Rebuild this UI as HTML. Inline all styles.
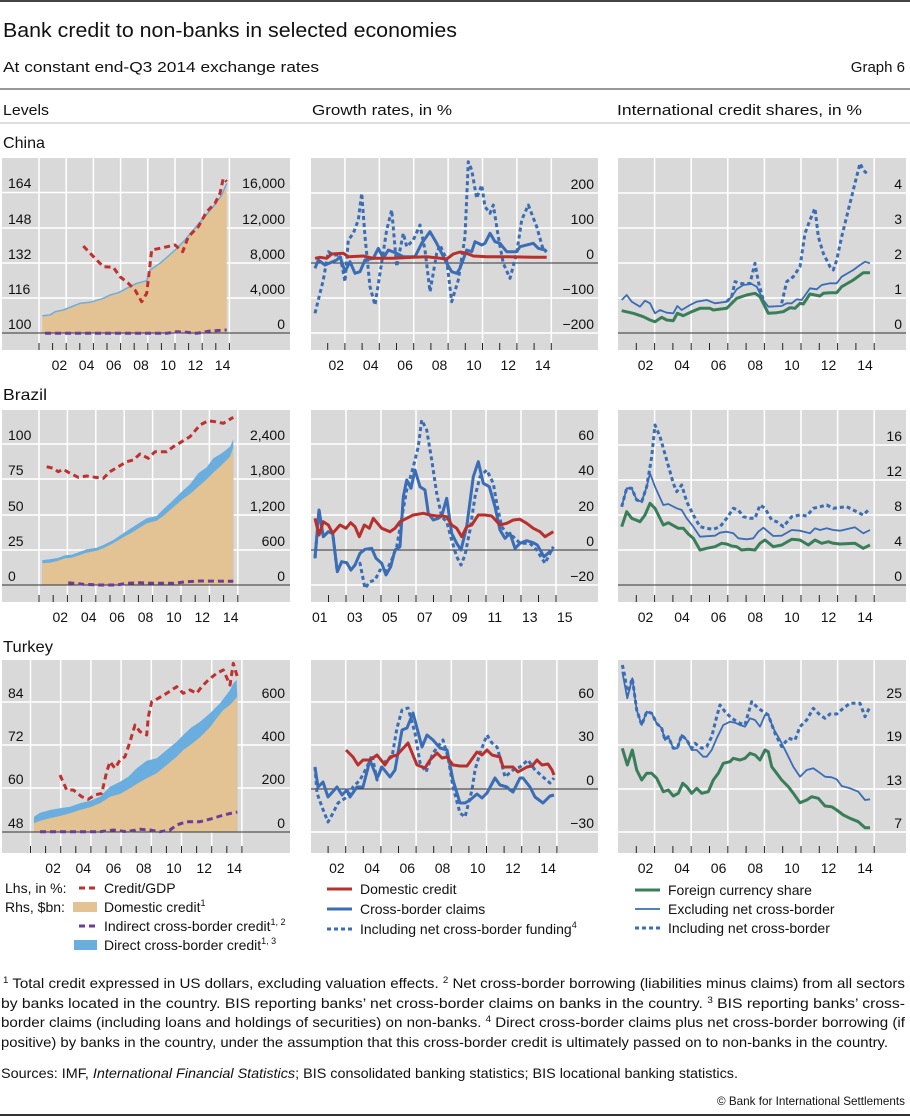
<!DOCTYPE html>
<html><head><meta charset="utf-8"><style>
html,body{margin:0;padding:0;background:#fff;}
svg{display:block;font-family:"Liberation Sans",Arial,sans-serif;}
.t{font-size:14px;fill:#111;}
.c{font-family:"Liberation Sans Narrow","Liberation Sans",sans-serif;fill:#111;}
</style></head><body>
<svg id="s" width="910" height="1117" viewBox="0 0 910 1117" xmlns="http://www.w3.org/2000/svg">
<rect width="910" height="1117" fill="#fff"/>
<line x1="0" y1="1" x2="910" y2="1" stroke="#444" stroke-width="2"/>
<text class="c" x="3" y="37" font-size="20" textLength="454" lengthAdjust="spacingAndGlyphs">Bank credit to non-banks in selected economies</text>
<text class="c" x="3" y="72" font-size="15" textLength="316" lengthAdjust="spacingAndGlyphs">At constant end-Q3 2014 exchange rates</text>
<text class="c" x="905" y="72" font-size="15" text-anchor="end">Graph 6</text>
<line x1="0" y1="89" x2="910" y2="89" stroke="#777" stroke-width="1.5"/>
<text class="c" x="3" y="115" font-size="15" textLength="46" lengthAdjust="spacingAndGlyphs">Levels</text>
<text class="c" x="312" y="115" font-size="15" textLength="140" lengthAdjust="spacingAndGlyphs">Growth rates, in %</text>
<text class="c" x="617" y="115" font-size="15" textLength="245" lengthAdjust="spacingAndGlyphs">International credit shares, in %</text>
<line x1="0" y1="123" x2="910" y2="123" stroke="#bbb" stroke-width="1"/>
<text class="c" x="3" y="148" font-size="16" textLength="42" lengthAdjust="spacingAndGlyphs">China</text>
<text class="c" x="3" y="400" font-size="16" textLength="44" lengthAdjust="spacingAndGlyphs">Brazil</text>
<text class="c" x="3" y="652" font-size="16" textLength="50" lengthAdjust="spacingAndGlyphs">Turkey</text>
<g id="plots"></g>
<g id="labels" class="t">
<!-- China -->
<text x="8" y="188">164</text><text x="8" y="224">148</text><text x="8" y="259">132</text><text x="8" y="294">116</text><text x="8" y="329">100</text>
<g text-anchor="end"><text x="285" y="188">16,000</text><text x="285" y="224">12,000</text><text x="285" y="259">8,000</text><text x="285" y="294">4,000</text><text x="285" y="329">0</text>
<text x="594" y="189">200</text><text x="594" y="224">100</text><text x="594" y="259">0</text><text x="594" y="294">−100</text><text x="594" y="329">−200</text>
<text x="902" y="189">4</text><text x="902" y="224">3</text><text x="902" y="259">2</text><text x="902" y="294">1</text><text x="902" y="329">0</text>
<!-- Brazil -->
<text x="285" y="440">2,400</text><text x="285" y="475">1,800</text><text x="285" y="511">1,200</text><text x="285" y="546">600</text><text x="285" y="581">0</text>
<text x="594" y="440">60</text><text x="594" y="475">40</text><text x="594" y="511">20</text><text x="594" y="546">0</text><text x="594" y="581">−20</text>
<text x="902" y="441">16</text><text x="902" y="476">12</text><text x="902" y="511">8</text><text x="902" y="546">4</text><text x="902" y="581">0</text>
<!-- Turkey -->
<text x="285" y="698">600</text><text x="285" y="741">400</text><text x="285" y="784">200</text><text x="285" y="828">0</text>
<text x="594" y="698">60</text><text x="594" y="741">30</text><text x="594" y="785">0</text><text x="594" y="828">−30</text>
<text x="902" y="698">25</text><text x="902" y="741">19</text><text x="902" y="785">13</text><text x="902" y="828">7</text>
</g>
<text x="8" y="440">100</text><text x="8" y="475">75</text><text x="8" y="511">50</text><text x="8" y="546">25</text><text x="8" y="581">0</text>
<text x="8" y="698">84</text><text x="8" y="741">72</text><text x="8" y="784">60</text><text x="8" y="828">48</text>
</g>
<g id="years" class="t" text-anchor="middle"></g>
<!-- Legends -->
<g class="t">
<text x="5" y="893">Lhs, in %:</text>
<text x="5" y="912">Rhs, $bn:</text>
<line x1="79" y1="888" x2="98" y2="888" stroke="#c0302f" stroke-width="3" stroke-dasharray="6,4"/>
<text x="104" y="893">Credit/GDP</text>
<rect x="73" y="902" width="24" height="10" fill="#e3c393"/>
<text x="104" y="912">Domestic credit<tspan font-size="9" dy="-6">1</tspan></text>
<line x1="79" y1="926" x2="98" y2="926" stroke="#6b3d99" stroke-width="3" stroke-dasharray="6,4"/>
<text x="104" y="931">Indirect cross-border credit<tspan font-size="9" dy="-6">1, 2</tspan></text>
<rect x="74" y="940" width="23" height="10" fill="#6aaee0"/>
<text x="104" y="950">Direct cross-border credit<tspan font-size="9" dy="-6">1, 3</tspan></text>

<line x1="327" y1="889" x2="352" y2="889" stroke="#b8302d" stroke-width="3"/>
<text x="360" y="894">Domestic credit</text>
<line x1="327" y1="909" x2="352" y2="909" stroke="#3a6db5" stroke-width="3"/>
<text x="360" y="914">Cross-border claims</text>
<line x1="327" y1="929" x2="352" y2="929" stroke="#3a6db5" stroke-width="3" stroke-dasharray="4,3"/>
<text x="360" y="934">Including net cross-border funding<tspan font-size="9" dy="-6">4</tspan></text>

<line x1="635" y1="890" x2="660" y2="890" stroke="#3a7d5a" stroke-width="3"/>
<text x="668" y="895">Foreign currency share</text>
<line x1="635" y1="909" x2="660" y2="909" stroke="#3a6db5" stroke-width="1.8"/>
<text x="668" y="914">Excluding net cross-border</text>
<line x1="635" y1="928" x2="660" y2="928" stroke="#3a6db5" stroke-width="3" stroke-dasharray="4,3"/>
<text x="668" y="933">Including net cross-border</text>
</g>
<!-- Footnotes -->
<g class="c" font-size="14">
<text x="3" y="988" textLength="902" lengthAdjust="spacingAndGlyphs"><tspan font-size="9" baseline-shift="super">1</tspan>  Total credit expressed in US dollars, excluding valuation effects.    <tspan font-size="9" baseline-shift="super">2</tspan>  Net cross-border borrowing (liabilities minus claims) from all sectors</text>
<text x="1" y="1008" textLength="904" lengthAdjust="spacingAndGlyphs">by banks located in the country. BIS reporting banks’ net cross-border claims on banks in the country.    <tspan font-size="9" baseline-shift="super">3</tspan>  BIS reporting banks’ cross-</text>
<text x="1" y="1027" textLength="904" lengthAdjust="spacingAndGlyphs">border claims (including loans and holdings of securities) on non-banks.    <tspan font-size="9" baseline-shift="super">4</tspan>  Direct cross-border claims plus net cross-border borrowing (if</text>
<text x="1" y="1047" textLength="887" lengthAdjust="spacingAndGlyphs">positive) by banks in the country, under the assumption that this cross-border credit is ultimately passed on to non-banks in the country.</text>
<text x="1" y="1078" textLength="737" lengthAdjust="spacingAndGlyphs">Sources: IMF, <tspan font-style="italic">International Financial Statistics</tspan>; BIS consolidated banking statistics; BIS locational banking statistics.</text>
<text x="717" y="1105" font-size="12" textLength="188" lengthAdjust="spacingAndGlyphs">© Bank for International Settlements</text>
</g>
<line x1="0" y1="1115" x2="910" y2="1115" stroke="#333" stroke-width="2"/>
</svg>
<script>
(function(){
var NS="http://www.w3.org/2000/svg";
var plots=document.getElementById('plots'), years=document.getElementById('years');
function el(tag,attrs,parent){var e=document.createElementNS(NS,tag);for(var k in attrs)e.setAttribute(k,attrs[k]);(parent||plots).appendChild(e);return e;}
function Z(cx,cy,pts){return pts.map(function(p,i){return (i?'L':'M')+(cx+p[0]/3).toFixed(1)+','+(cy+p[1]/3).toFixed(1);}).join('');}
function P(pts){return pts.map(function(p,i){return (i?'L':'M')+p[0]+','+p[1];}).join('');}
function line(d,c,w,dash){var a={d:d,fill:'none',stroke:c,'stroke-width':w,'stroke-linejoin':'round'};if(dash)a['stroke-dasharray']=dash;el('path',a);}
function panel(o){
 el('rect',{x:o.x0,y:o.y0,width:o.x1-o.x0,height:o.y1-o.y0,fill:'#d9d9d9'});
 o.vg.forEach(function(yr){var x=o.X(yr);el('line',{x1:x,y1:o.y0,x2:x,y2:o.y1,stroke:'#fff','stroke-width':1.5});});
 o.hg.forEach(function(y){el('line',{x1:o.x0,y1:y,x2:o.x1,y2:y,stroke:'#fff','stroke-width':1.5});});
 for(var yr=o.t0;yr<=2015;yr++){var x=o.X(yr);el('line',{x1:x,y1:o.y1-7,x2:x,y2:o.y1,stroke:'#222','stroke-width':1});}
 o.lab.forEach(function(yr){var t=el('text',{x:o.X(yr+0.5).toFixed(1),y:o.y1+20},years);t.textContent=String(yr).slice(2);});
}
function axis(o){if(o.ax)el('line',{x1:o.x0,y1:o.ax,x2:o.x1,y2:o.ax,stroke:'#333','stroke-width':1});}
var odd=[2003,2005,2007,2009,2011,2013,2015], odd1=[2001].concat(odd), even=[2002,2004,2006,2008,2010,2012,2014];
var RX=function(y){return 618+18.3*(y-2001);};
var panels={
 cL:{x0:2,y0:158,x1:290,y1:350,X:function(y){return 39+13.6*(y-2001);},vg:odd1,hg:[192.5,228,263,298],ax:333,t0:2001,lab:even},
 cM:{x0:311,y0:158,x1:598,y1:350,X:function(y){return 310.5+17.2*(y-2001);},vg:odd,hg:[193,228,298,333],ax:263,t0:2002,lab:even},
 cR:{x0:618,y0:158,x1:906,y1:350,X:RX,vg:odd,hg:[193,228,263,298],ax:333,t0:2002,lab:even},
 bL:{x0:2,y0:410,x1:290,y1:602,X:function(y){return 39+14.2*(y-2001);},vg:odd1,hg:[444,479,515,550],ax:585,t0:2001,lab:even},
 bM:{x0:311,y0:410,x1:598,y1:602,X:function(y){return 311+17.5*(y-2001);},vg:odd,hg:[444,479,515,585],ax:550,t0:2002,lab:[2000,2002,2004,2006,2008,2010,2012,2014].map(function(v){return v+1;})},
 bR:{x0:618,y0:410,x1:906,y1:602,X:RX,vg:odd,hg:[445,480,515,550],ax:585,t0:2002,lab:even},
 tL:{x0:2,y0:660,x1:290,y1:853,X:function(y){return 30.5+15.1*(y-2001);},vg:odd1,hg:[702,745,788],ax:832,t0:2001,lab:even},
 tM:{x0:311,y0:660,x1:598,y1:853,X:function(y){return 310.5+17.6*(y-2001);},vg:odd,hg:[702,745,832],ax:789,t0:2002,lab:even},
 tR:{x0:618,y0:660,x1:906,y1:853,X:RX,vg:odd,hg:[702,745,789,832],ax:0,t0:2002,lab:even}
};
for(var k in panels)panel(panels[k]);
var RED='#b8302d',RDASH='#c0302f',BLUE='#3a6db5',GREEN='#3a7d5a',TAN='#e3c393',LB='#6aaee0',PUR='#6b3d99';
// China L
var cTop=[[127,557],[150,555],[165,545],[190,540],[240,520],[270,517],[310,505],[330,495],[355,488],[380,475],[410,460],[440,452],[450,420],[480,400],[520,365],[555,330],[580,300],[610,265],[640,230],[665,195],[680,160]];
el('path',{d:Z(0,130,[[127,610]].concat(cTop,[[680,610]]))+'Z',fill:TAN});
axis(panels.cL);
line(Z(0,130,cTop),LB,1.5);
line(Z(0,130,[[135,610],[500,610],[530,605],[560,607],[590,610],[630,603],[680,600]]),PUR,3,'6,4');
line(Z(0,130,[[250,348],[285,385],[310,410],[340,412],[360,440],[385,460],[405,480],[425,515],[440,490],[455,360],[480,355],[525,345],[548,365],[565,320],[595,290],[620,245],[645,220],[660,190],[670,145],[680,155]]),RDASH,3,'6,4');
// China M
axis(panels.cM);
line(Z(300,140,[[45,520],[70,420],[85,335],[100,345],[120,345],[135,425],[145,300],[160,280],[175,240],[185,160],[195,290],[210,440],[225,495],[240,400],[260,270],[275,210],[290,380],[310,280],[320,320],[340,300],[360,255],[375,330],[390,455],[410,340],[420,315],[440,360],[455,485],[475,420],[495,290],[505,65],[515,90],[530,175],[545,135],[555,200],[570,220],[580,195],[595,290],[610,370],[630,415],[650,340],[665,240],[685,195],[710,260],[730,330],[740,335]]),BLUE,3,'4,3');
line(Z(300,140,[[45,385],[55,360],[75,375],[110,360],[120,350],[135,395],[150,365],[165,400],[180,395],[195,360],[220,355],[235,325],[250,355],[265,330],[290,340],[310,350],[345,350],[365,310],[390,275],[410,310],[440,370],[455,395],[470,400],[480,385],[500,330],[515,335],[525,305],[545,315],[555,310],[570,280],[585,305],[600,310],[620,335],[650,335],[660,320],[700,310],[715,325],[735,330],[740,335]]),BLUE,3);
line(Z(300,140,[[45,355],[60,352],[80,355],[95,342],[130,340],[145,350],[190,348],[220,355],[280,355],[340,352],[380,350],[440,357],[460,342],[480,336],[500,340],[520,348],[560,350],[620,350],[700,352],[740,352]]),RED,3);
// China R
axis(panels.cR);
line(Z(600,130,[[380,515],[395,500],[405,455],[420,460],[435,462],[450,460],[465,400],[475,455],[490,510]]),BLUE,3,'4,3');
line(Z(600,130,[[545,520],[560,455],[580,440],[600,410],[615,310],[630,270],[645,235],[655,320],[670,370],[690,410],[700,420],[710,390],[725,320],[745,240],[760,180],[780,100],[790,120],[805,135]]),BLUE,3,'4,3');
line(Z(600,130,[[65,510],[80,495],[95,515],[120,530],[135,512],[150,520],[165,550],[180,540],[200,548],[220,550],[232,528],[245,540],[270,525],[290,515],[320,510],[345,520],[380,515],[395,500],[410,478],[430,465],[455,462],[470,470],[490,510],[505,530],[545,528],[560,520],[575,520],[590,508],[605,510],[630,475],[650,478],[665,465],[690,460],[710,460],[725,440],[760,420],[780,405],[795,395],[810,400]]),BLUE,1.8);
line(Z(600,130,[[65,542],[100,550],[130,560],[150,570],[165,575],[185,562],[200,570],[220,572],[232,550],[250,557],[275,545],[300,535],[330,535],[340,540],[380,535],[410,505],[440,495],[465,490],[480,500],[505,550],[530,548],[550,545],[570,533],[585,535],[600,520],[610,522],[630,492],[660,498],[670,490],[690,488],[710,488],[725,470],[760,450],[790,428],[810,428]]),GREEN,3);
// Brazil L
var bBlue=[[127,510],[150,508],[175,503],[195,496],[215,494],[240,485],[260,478],[290,473],[310,465],[340,450],[370,430],[400,410],[440,385],[470,378],[490,358],[520,330],[545,305],[570,283],[595,250],[620,232],[640,205],[665,190],[690,170],[700,148]];
var bTan=[[127,520],[150,518],[175,512],[195,505],[215,503],[240,495],[260,488],[290,482],[310,475],[340,460],[370,442],[400,425],[440,400],[470,392],[490,378],[520,352],[545,330],[570,312],[595,290],[620,268],[640,248],[665,225],[690,200],[700,172]];
el('path',{d:Z(0,390,[[127,585]].concat(bBlue,[[700,585]]))+'Z',fill:LB});
el('path',{d:Z(0,390,[[127,585]].concat(bTan,[[700,585]]))+'Z',fill:TAN});
axis(panels.bL);
line(Z(0,390,[[205,578],[250,583],[300,585],[350,585],[380,580],[420,578],[460,580],[520,580],[560,575],[600,573],[700,574]]),PUR,3,'6,4');
line(Z(0,390,[[140,230],[160,235],[175,245],[190,238],[210,250],[235,262],[260,258],[285,262],[310,265],[330,245],[355,230],[380,215],[400,210],[420,192],[445,205],[465,185],[500,185],[520,170],[545,155],[570,140],[600,105],[625,92],[645,95],[670,100],[700,82]]),RDASH,3,'6,4');
// Brazil M
axis(panels.bM);
line(Z(300,390,[[45,505],[57,360],[70,440],[85,425],[98,430],[112,545],[125,515],[140,518],[153,540],[165,525],[180,520],[195,595],[210,575],[225,570],[240,540],[258,545],[275,510],[290,470],[305,385],[320,300],[340,230],[355,170],[365,90],[380,120],[395,210],[410,310],[425,380],[440,395],[455,450],[470,500],[483,525],[495,495],[510,420],[525,320],[540,260],[560,240],[580,280],[590,340],[605,410],[620,430],[640,440],[660,460],[690,460],[710,480],[735,520],[760,470]]),BLUE,3,'4,3');
line(Z(300,390,[[45,505],[57,360],[70,440],[85,425],[98,430],[112,545],[125,515],[140,518],[153,540],[165,525],[180,490],[195,478],[215,475],[228,505],[245,520],[258,555],[272,530],[285,480],[300,470],[310,320],[320,270],[333,295],[345,240],[360,290],[375,300],[385,370],[400,390],[415,385],[425,378],[440,325],[455,430],[470,460],[483,480],[500,410],[520,260],[535,215],[550,280],[568,290],[585,350],[600,420],[615,445],[630,430],[645,475],[660,460],[680,452],[700,458],[712,465],[732,500],[750,485],[760,478]]),BLUE,3);
line(Z(300,390,[[45,385],[57,435],[70,395],[85,405],[98,430],[120,405],[138,415],[152,398],[165,410],[178,440],[193,405],[208,415],[220,385],[245,415],[270,425],[285,415],[300,395],[320,385],[340,375],[370,370],[390,375],[410,378],[425,378],[440,380],[455,405],[470,415],[485,440],[500,410],[515,405],[535,375],[555,375],[575,378],[600,405],[620,400],[640,390],[660,388],[680,400],[700,415],[720,425],[735,440],[760,425]]),RED,3);
// Brazil R
axis(panels.bR);
line(Z(600,390,[[65,350],[80,295],[95,295],[110,330],[125,335],[140,290],[155,200],[165,105],[180,140],[200,210],[220,280],[230,305],[245,285],[260,335],[280,375],[300,410],[320,415],[340,418],[360,410],[380,385],[400,355],[415,360],[430,380],[450,385],[465,385],[480,345],[495,355],[515,390],[530,395],[550,410],[575,380],[600,375],[620,378],[640,355],[660,350],[680,345],[700,355],[740,350],[770,365],[790,375],[810,355]]),BLUE,3,'4,3');
line(Z(600,390,[[65,350],[80,295],[95,295],[110,330],[125,335],[140,290],[150,250],[165,290],[190,345],[205,342],[230,355],[245,360],[260,385],[280,410],[300,440],[345,437],[360,428],[380,425],[400,430],[415,445],[440,448],[460,445],[475,425],[490,413],[520,438],[545,437],[575,420],[600,422],[630,430],[645,415],[660,420],[680,415],[700,420],[720,422],[765,412],[790,430],[810,420]]),BLUE,1.8);
line(Z(600,390,[[65,410],[80,365],[95,385],[120,395],[135,375],[150,340],[165,355],[190,405],[205,398],[235,415],[250,415],[265,432],[280,445],[300,480],[320,475],[345,470],[365,460],[380,462],[395,468],[410,470],[425,480],[445,478],[465,480],[480,460],[495,450],[520,470],[545,465],[575,448],[600,450],[625,465],[645,450],[665,460],[685,455],[700,460],[720,462],[765,460],[790,475],[810,465]]),GREEN,3);
// Turkey L
var tBlue=[[102,530],[120,518],[150,510],[180,505],[210,500],[240,490],[270,482],[300,470],[330,440],[360,425],[385,410],[410,385],[440,362],[470,355],[500,330],[530,305],[555,280],[575,262],[600,245],[630,220],[660,190],[690,150],[700,130],[710,120],[712,170]];
var tTan=[[102,550],[120,542],[150,535],[180,528],[210,520],[240,510],[270,502],[300,490],[330,470],[360,462],[385,448],[410,432],[440,415],[470,400],[500,375],[530,350],[550,330],[575,312],[600,292],[630,262],[650,235],[670,210],[690,195],[712,170]];
el('path',{d:Z(0,640,[[102,575]].concat(tBlue,[[712,575]]))+'Z',fill:LB});
el('path',{d:Z(0,640,[[102,575]].concat(tTan,[[712,575]]))+'Z',fill:TAN});
axis(panels.tL);
line(Z(0,640,[[120,575],[300,575],[340,570],[380,575],[420,568],[450,570],[480,575],[510,570],[530,555],[560,545],[600,545],[640,535],[670,525],[712,516]]),PUR,3,'6,4');
line(Z(0,640,[[180,405],[200,450],[220,450],[245,470],[265,478],[285,465],[305,460],[320,395],[330,365],[345,385],[360,360],[375,350],[390,305],[405,255],[420,275],[440,285],[445,230],[455,185],[475,175],[500,160],[530,140],[550,160],[570,150],[590,160],[605,140],[625,120],[650,100],[670,90],[690,135],[700,70],[712,110]]),RDASH,3,'6,4');
// Turkey M
axis(panels.tM);
line(P([[315,767],[317,793],[322,807],[328,822],[333,813],[338,803],[347,797],[353,787],[360,780],[367,767],[372,755],[377,780],[383,763],[392,757],[397,728],[402,710],[408,708],[415,733],[420,763],[426,772],[433,753],[443,740],[448,757],[453,787],[460,813],[465,817],[472,790],[475,770],[480,753],[487,735],[492,743],[497,747],[502,765],[505,777],[513,770],[520,767],[528,760],[535,770],[543,777],[550,783],[554,778]]),BLUE,3,'4,3');
line(P([[315,767],[318,787],[323,782],[328,797],[337,787],[342,795],[347,790],[350,797],[357,787],[363,787],[370,760],[377,778],[382,767],[390,777],[395,770],[402,730],[407,728],[413,713],[422,747],[427,735],[433,740],[440,748],[447,750],[453,780],[460,803],[465,803],[470,800],[477,794],[482,798],[487,793],[495,778],[500,785],[507,787],[510,790],[513,792],[520,778],[523,778],[530,787],[535,797],[543,803],[550,796],[554,795]]),BLUE,3);
line(P([[346,750],[353,757],[358,765],[363,760],[370,760],[377,755],[385,765],[390,757],[397,755],[408,743],[417,765],[425,768],[430,760],[437,753],[442,758],[447,757],[453,765],[460,766],[467,766],[477,752],[482,755],[487,750],[492,755],[500,757],[503,767],[513,767],[518,772],[527,767],[532,766],[537,760],[542,765],[548,764],[552,770],[554,775]]),RED,3);
// Turkey R
line(Z(460,640,[[487,75],[495,110],[502,165],[517,115],[530,210],[545,255],[560,215],[575,220],[590,250],[605,265],[615,300],[625,290],[640,325],[652,325],[665,285],[680,300],[695,325],[705,310],[725,325],[740,320],[755,290],[770,230],[780,195],[795,215],[815,235],[840,250],[855,255],[865,220],[875,185],[895,205],[910,215],[925,225],[945,280],[965,320],[985,295],[1005,300],[1020,260],[1040,240],[1060,205],[1080,225],[1095,235],[1110,222],[1130,222],[1150,205],[1170,190],[1200,190],[1215,230],[1230,200]]),BLUE,3,'4,3');
line(Z(460,640,[[487,95],[502,175],[517,115],[530,210],[545,255],[560,215],[575,220],[590,250],[605,265],[615,300],[625,290],[640,325],[652,325],[665,285],[680,300],[695,330],[710,330],[730,350],[740,350],[755,330],[770,295],[790,255],[810,245],[825,248],[840,255],[855,260],[870,235],[885,240],[900,260],[915,225],[925,225],[940,265],[960,300],[980,340],[1000,380],[1020,410],[1040,390],[1060,385],[1075,395],[1095,410],[1115,412],[1130,418],[1145,438],[1170,445],[1195,455],[1215,480],[1230,478]]),BLUE,1.8);
line(Z(460,640,[[487,325],[502,375],[517,330],[530,390],[545,420],[560,400],[575,400],[590,415],[610,455],[625,450],[640,468],[655,460],[668,430],[680,440],[695,460],[710,445],[725,460],[745,455],[760,420],[775,400],[790,370],[810,365],[820,355],[840,360],[855,355],[870,340],[885,345],[900,360],[915,330],[925,335],[935,380],[950,400],[965,420],[985,440],[1000,460],[1020,488],[1040,480],[1055,470],[1075,475],[1095,498],[1115,500],[1130,510],[1150,525],[1170,535],[1195,545],[1215,563],[1230,563]]),GREEN,3);
})();
</script>
</body></html>
